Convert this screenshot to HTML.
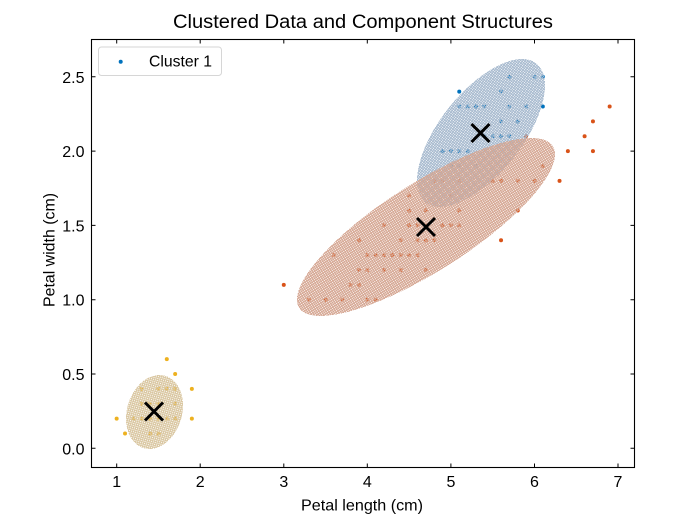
<!DOCTYPE html>
<html>
<head>
<meta charset="utf-8">
<style>
html,body{margin:0;padding:0;background:#fff;}
svg{display:block;}
text{font-family:"Liberation Sans", "DejaVu Sans", sans-serif;fill:#000;}
</style>
</head>
<body>
<svg width="700" height="525" viewBox="0 0 700 525" xmlns="http://www.w3.org/2000/svg">
<defs>
<pattern id="hb" patternUnits="userSpaceOnUse" width="2" height="2">
<rect x="0" y="0" width="2" height="1" fill="#a6b9ce"/><rect x="0" y="0" width="1" height="2" fill="#a6b9ce"/>
</pattern>
<pattern id="ho" patternUnits="userSpaceOnUse" width="2" height="2">
<rect x="0" y="0" width="2" height="1" fill="#d5a692"/><rect x="0" y="0" width="1" height="2" fill="#d5a692"/>
</pattern>
<pattern id="hy" patternUnits="userSpaceOnUse" width="2" height="2">
<rect x="0" y="0" width="2" height="1" fill="#d9c6a0"/><rect x="0" y="0" width="1" height="2" fill="#d9c6a0"/>
</pattern>
</defs>
<rect width="700" height="525" fill="#fff"/>

<!-- title -->
<text x="363" y="28" font-size="19" text-anchor="middle" textLength="380" lengthAdjust="spacingAndGlyphs">Clustered Data and Component Structures</text>

<!-- points: cluster 1 (blue) -->
<g fill="#0072BD">
<circle cx="442.54" cy="151.1" r="2"/><circle cx="450.90" cy="165.96" r="2"/><circle cx="450.90" cy="151.1" r="2"/>
<circle cx="459.26" cy="165.96" r="2"/><circle cx="459.26" cy="151.1" r="2"/><circle cx="459.26" cy="106.52" r="2"/>
<circle cx="459.26" cy="91.66" r="2"/><circle cx="467.61" cy="151.1" r="2"/><circle cx="467.61" cy="106.52" r="2"/>
<circle cx="475.97" cy="165.96" r="2"/><circle cx="475.97" cy="106.52" r="2"/><circle cx="484.32" cy="136.24" r="2"/>
<circle cx="484.32" cy="106.52" r="2"/><circle cx="492.68" cy="136.24" r="2"/><circle cx="501.04" cy="136.24" r="2"/>
<circle cx="501.04" cy="121.38" r="2"/><circle cx="501.04" cy="91.66" r="2"/><circle cx="509.39" cy="136.24" r="2"/>
<circle cx="509.39" cy="106.52" r="2"/><circle cx="509.39" cy="76.8" r="2"/><circle cx="517.75" cy="121.38" r="2"/>
<circle cx="526.10" cy="106.52" r="2"/><circle cx="534.46" cy="76.8" r="2"/><circle cx="542.82" cy="106.52" r="2"/>
<circle cx="542.82" cy="76.8" r="2"/><circle cx="434.19" cy="180.82" r="2"/>
</g>
<!-- cluster 2 (orange) -->
<g fill="#D95319">
<circle cx="283.78" cy="284.84" r="2"/><circle cx="308.85" cy="299.7" r="2"/><circle cx="325.56" cy="299.7" r="2"/>
<circle cx="333.92" cy="255.12" r="2"/><circle cx="342.27" cy="299.7" r="2"/><circle cx="350.63" cy="284.84" r="2"/>
<circle cx="358.98" cy="284.84" r="2"/><circle cx="358.98" cy="269.98" r="2"/><circle cx="358.98" cy="240.26" r="2"/>
<circle cx="367.34" cy="299.7" r="2"/><circle cx="367.34" cy="269.98" r="2"/><circle cx="367.34" cy="255.12" r="2"/>
<circle cx="375.70" cy="299.7" r="2"/><circle cx="375.70" cy="255.12" r="2"/><circle cx="384.05" cy="269.98" r="2"/>
<circle cx="384.05" cy="255.12" r="2"/><circle cx="384.05" cy="225.4" r="2"/><circle cx="392.41" cy="255.12" r="2"/>
<circle cx="400.76" cy="269.98" r="2"/><circle cx="400.76" cy="255.12" r="2"/><circle cx="400.76" cy="240.26" r="2"/>
<circle cx="409.12" cy="255.12" r="2"/><circle cx="409.12" cy="225.4" r="2"/><circle cx="409.12" cy="210.54" r="2"/>
<circle cx="409.12" cy="195.68" r="2"/><circle cx="417.48" cy="255.12" r="2"/><circle cx="417.48" cy="240.26" r="2"/>
<circle cx="417.48" cy="225.4" r="2"/><circle cx="425.83" cy="269.98" r="2"/><circle cx="425.83" cy="240.26" r="2"/>
<circle cx="425.83" cy="225.4" r="2"/><circle cx="425.83" cy="210.54" r="2"/><circle cx="434.19" cy="240.26" r="2"/>
<circle cx="434.19" cy="180.82" r="2"/><circle cx="442.54" cy="225.4" r="2"/><circle cx="450.90" cy="195.68" r="2"/>
<circle cx="459.26" cy="210.54" r="2"/><circle cx="442.54" cy="180.82" r="2"/><circle cx="450.90" cy="225.4" r="2"/>
<circle cx="459.26" cy="225.4" r="2"/><circle cx="459.26" cy="180.82" r="2"/><circle cx="492.68" cy="180.82" r="2"/>
<circle cx="501.04" cy="240.26" r="2"/><circle cx="501.04" cy="180.82" r="2"/><circle cx="517.75" cy="210.54" r="2"/>
<circle cx="517.75" cy="180.82" r="2"/><circle cx="526.10" cy="136.24" r="2"/><circle cx="534.46" cy="180.82" r="2"/>
<circle cx="542.82" cy="165.96" r="2"/><circle cx="559.53" cy="180.82" r="2"/><circle cx="567.88" cy="151.1" r="2"/>
<circle cx="584.60" cy="136.24" r="2"/><circle cx="592.95" cy="151.1" r="2"/><circle cx="592.95" cy="121.38" r="2"/>
<circle cx="609.66" cy="106.52" r="2"/>
</g>
<!-- cluster 3 (yellow) -->
<g fill="#EDB120">
<circle cx="116.66" cy="418.58" r="2"/><circle cx="125.02" cy="433.44" r="2"/><circle cx="133.37" cy="418.58" r="2"/>
<circle cx="141.73" cy="418.58" r="2"/><circle cx="141.73" cy="403.72" r="2"/><circle cx="141.73" cy="388.86" r="2"/>
<circle cx="150.08" cy="433.44" r="2"/><circle cx="150.08" cy="418.58" r="2"/><circle cx="150.08" cy="403.72" r="2"/>
<circle cx="158.44" cy="433.44" r="2"/><circle cx="158.44" cy="418.58" r="2"/><circle cx="158.44" cy="403.72" r="2"/>
<circle cx="158.44" cy="388.86" r="2"/><circle cx="166.80" cy="418.58" r="2"/><circle cx="166.80" cy="388.86" r="2"/>
<circle cx="166.80" cy="359.14" r="2"/><circle cx="175.15" cy="418.58" r="2"/><circle cx="175.15" cy="403.72" r="2"/>
<circle cx="175.15" cy="388.86" r="2"/><circle cx="175.15" cy="374.0" r="2"/><circle cx="191.86" cy="418.58" r="2"/>
<circle cx="191.86" cy="388.86" r="2"/>
</g>

<!-- ellipses (hatched) -->
<g shape-rendering="crispEdges">
<ellipse cx="481" cy="133" rx="88.9" ry="40.9" transform="rotate(-51.4 481 133)" fill="url(#hb)"/>
<ellipse cx="426" cy="227" rx="150.4" ry="44.1" transform="rotate(-32.5 426 227)" fill="url(#ho)"/>
<ellipse cx="154.5" cy="412" rx="37.75" ry="27.5" transform="rotate(-73.2 154.5 412)" fill="url(#hy)"/>
</g>

<!-- centers -->
<g stroke="#000" stroke-width="3" fill="none">
<path d="M471.5 124 L489.5 142 M489.5 124 L471.5 142"/>
<path d="M417 218 L435 236 M435 218 L417 236"/>
<path d="M145 402.5 L163 420.5 M163 402.5 L145 420.5"/>
</g>

<!-- axes frame -->
<rect x="91.5" y="39.5" width="543" height="428" fill="none" stroke="#000" stroke-width="1.1"/>

<!-- ticks -->
<g stroke="#000" stroke-width="1">
<path d="M116.7 467.5v-4 M200.2 467.5v-4 M283.8 467.5v-4 M367.3 467.5v-4 M450.9 467.5v-4 M534.5 467.5v-4 M618.0 467.5v-4"/>
<path d="M116.7 39.5v4 M200.2 39.5v4 M283.8 39.5v4 M367.3 39.5v4 M450.9 39.5v4 M534.5 39.5v4 M618.0 39.5v4"/>
<path d="M91.5 448.3h4 M91.5 374.0h4 M91.5 299.7h4 M91.5 225.4h4 M91.5 151.1h4 M91.5 76.8h4"/>
<path d="M634.5 448.3h-4 M634.5 374.0h-4 M634.5 299.7h-4 M634.5 225.4h-4 M634.5 151.1h-4 M634.5 76.8h-4"/>
</g>

<!-- x tick labels -->
<g font-size="16" text-anchor="middle">
<text x="116.7" y="487">1</text>
<text x="200.2" y="487">2</text>
<text x="283.8" y="487">3</text>
<text x="367.3" y="487">4</text>
<text x="450.9" y="487">5</text>
<text x="534.5" y="487">6</text>
<text x="618.0" y="487">7</text>
</g>
<!-- y tick labels -->
<g font-size="16" text-anchor="end">
<text x="84.5" y="454.3">0.0</text>
<text x="84.5" y="380.0">0.5</text>
<text x="84.5" y="305.7">1.0</text>
<text x="84.5" y="231.4">1.5</text>
<text x="84.5" y="157.1">2.0</text>
<text x="84.5" y="82.8">2.5</text>
</g>

<!-- axis labels -->
<text x="362" y="510.5" font-size="16" text-anchor="middle" textLength="122" lengthAdjust="spacingAndGlyphs">Petal length (cm)</text>
<text transform="translate(54.5 250) rotate(-90)" x="0" y="0" font-size="16" text-anchor="middle" textLength="114" lengthAdjust="spacingAndGlyphs">Petal width (cm)</text>

<!-- legend -->
<rect x="98.5" y="47" width="123" height="28.5" rx="3" ry="3" fill="#fff" fill-opacity="0.8" stroke="#d6d6d6" stroke-width="1"/>
<circle cx="120.7" cy="61.7" r="2" fill="#0072BD"/>
<text x="149" y="66.5" font-size="16" textLength="63" lengthAdjust="spacingAndGlyphs">Cluster 1</text>
</svg>
</body>
</html>
